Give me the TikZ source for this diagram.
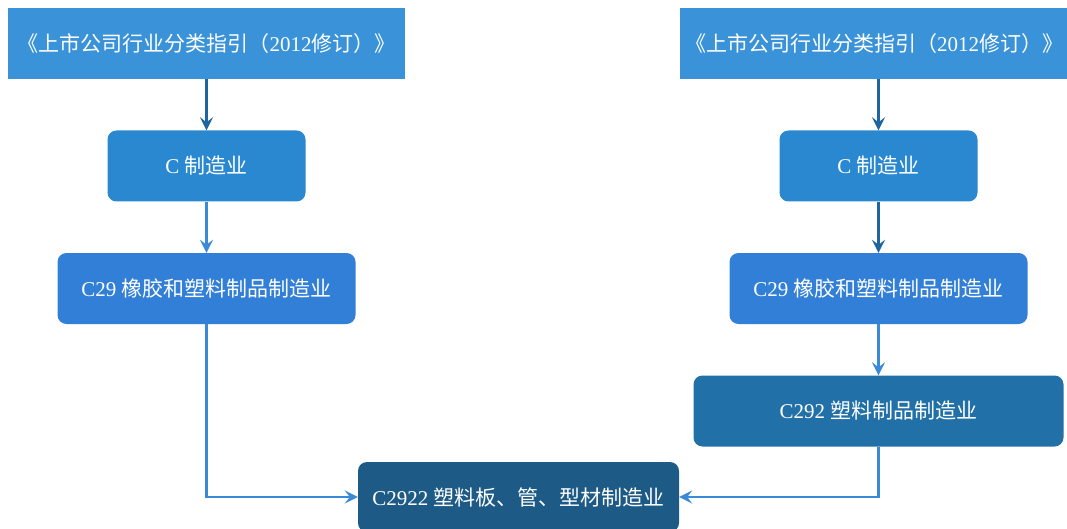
\documentclass[tikz,border=0pt]{standalone}
\usepackage{fontspec}
\setmainfont{Liberation Serif}
\newfontfamily\cjk{Noto Sans CJK SC}
\usetikzlibrary{positioning, arrows.meta}

\definecolor{topblue}{HTML}{3A93D8}
\definecolor{cblue}{HTML}{2A88D0}
\definecolor{midblue}{HTML}{317FD6}
\definecolor{subblue}{HTML}{2270A8}
\definecolor{leafblue}{HTML}{1D5A86}
\definecolor{darkarrow}{HTML}{1F66A0}
\definecolor{lightarrow}{HTML}{3A8AD8}

\begin{document}
\begin{tikzpicture}[
    x=1pt, y=1pt,
    node distance=122.5pt,
    on grid,
    every node/.style={text=white, font=\fontsize{21}{24}\selectfont, inner sep=0pt},
    guidebox/.style={fill=topblue, minimum width=397pt, minimum height=71pt},
    levelbox/.style={rounded corners=9pt, minimum height=71pt},
    link/.style={line width=2.6pt, -{Stealth[length=13pt, width=13pt, inset=5pt]}}
]
   \useasboundingbox (0,0) rectangle (1067,-529);

   % Left chain
   \node[guidebox] (ltop) at (206.5,-43.5) {{\cjk 《上市公司行业分类指引（}2012{\cjk 修订）》}};
   \node[levelbox, fill=cblue, minimum width=198pt] (lc) [below=of ltop] {C {\cjk 制造业}};
   \node[levelbox, fill=midblue, minimum width=298pt] (lc29) [below=of lc] {C29 {\cjk 橡胶和塑料制品制造业}};

   % Right chain
   \node[guidebox, minimum width=388pt] (rtop) at (874,-43.5) {{\cjk 《上市公司行业分类指引（}2012{\cjk 修订）》}};
   \node[levelbox, fill=cblue, minimum width=198pt] (rc) [right=672pt of lc] {C {\cjk 制造业}};
   \node[levelbox, fill=midblue, minimum width=298pt] (rc29) [below=of rc] {C29 {\cjk 橡胶和塑料制品制造业}};
   \node[levelbox, fill=subblue, minimum width=370pt] (rc292) [below=of rc29] {C292 {\cjk 塑料制品制造业}};

   % Common leaf
   \node[levelbox, fill=leafblue, minimum width=321pt, minimum height=70pt] (leaf) at (518.5,-497) {C2922 {\cjk 塑料板、管、型材制造业}};

   % Connectors
   \draw[link, darkarrow] (ltop.south -| lc) -- (lc);
   \draw[link, lightarrow] (lc) -- (lc29);
   \draw[link, lightarrow] (lc29) |- (leaf);
   \draw[link, darkarrow] (rtop.south -| rc) -- (rc);
   \draw[link, darkarrow] (rc) -- (rc29);
   \draw[link, lightarrow] (rc29) -- (rc292);
   \draw[link, lightarrow] (rc292) |- (leaf);
\end{tikzpicture}
\end{document}
